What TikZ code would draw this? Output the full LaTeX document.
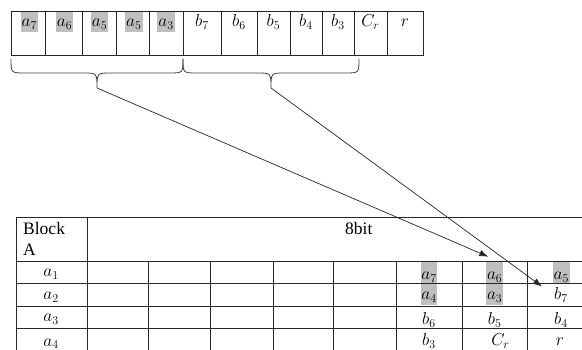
\documentclass[tikz,border=0pt]{standalone}
\usepackage{fontspec}
\setmainfont{Liberation Serif}
\usetikzlibrary{arrows.meta}
\begin{document}
\begin{tikzpicture}[x=1pt,y=-1pt,
  grid/.style={draw=black!85, line width=0.8pt},
  mlbl/.style={anchor=base, inner sep=0pt, font=\fontsize{16.5}{19}\selectfont},
  tlbl/.style={anchor=base west, inner sep=0pt, font=\fontsize{17.5}{21}\selectfont},
  hl/.style={fill=black!25, draw=none},
  conn/.style={draw=black!85, line width=0.7pt, -{Latex[length=9pt,width=6.5pt]}},
  bracestyle/.style={draw=black!75, line width=0.8pt}]
\useasboundingbox (0,0) rectangle (582,350);
\clip (0,0) rectangle (582,350);

% ---------- top register ----------
\fill[hl] (20.7,12) rectangle (38,32);
\fill[hl] (55.7,12) rectangle (73.3,32);
\fill[hl] (90.7,12) rectangle (108.3,32);
\fill[hl] (125,12) rectangle (142.7,32);
\fill[hl] (157.3,12) rectangle (175,32);
\draw[grid] (11,11) rectangle (423,55);
\foreach \x in {45,82,116,149,183,221,257,290,322,354,387}
  \draw[grid] (\x,11) -- (\x,55);
\node[mlbl] (t1) at (29.3,27) {$a_7$};
\node[mlbl] (t2) at (64.5,27) {$a_6$};
\node[mlbl] (t3) at (99.5,27) {$a_5$};
\node[mlbl] (t4) at (133.8,27) {$a_5$};
\node[mlbl] (t5) at (166,27) {$a_3$};
\node[mlbl] (t6) at (202,27) {$b_7$};
\node[mlbl] (t7) at (239,27) {$b_6$};
\node[mlbl] (t8) at (273.5,27) {$b_5$};
\node[mlbl] (t9) at (306,27) {$b_4$};
\node[mlbl] (t10) at (338,27) {$b_3$};
\node[mlbl] (t11) at (370.5,27) {$C_r$};
\node[mlbl] (t12) at (405,27) {$r$};

% ---------- braces ----------
\coordinate (tipA) at (97,88);
\coordinate (tipB) at (271,88);
\draw[bracestyle] (11,59) .. controls (11,73) .. (25,73) -- (83,73)
  .. controls (97,73) .. (tipA) .. controls (97,73) .. (111,73) -- (169,73)
  .. controls (183,73) .. (183,59);
\draw[bracestyle] (183,59) .. controls (183,73) .. (197,73) -- (257,73)
  .. controls (271,73) .. (tipB) .. controls (271,73) .. (285,73) -- (345,73)
  .. controls (359,73) .. (359,59);

% ---------- bottom table ----------
\fill[hl] (420.7,261.3) rectangle (437.3,304.7);
\fill[hl] (486,261.3) rectangle (503.3,304.7);
\fill[hl] (552.7,261.3) rectangle (570,283);
\foreach \y in {217,261,283,306.3,328.7}
  \draw[grid] (16,\y) -- (600,\y);
\draw[grid] (16,217) -- (16,360);
\draw[grid] (87,217) -- (87,360);
\foreach \x in {148,210,273,333,396,462,527.5}
  \draw[grid] (\x,261) -- (\x,360);

\node[tlbl] (blk1) at (23,235) {Block};
\node[tlbl] (blk2) at (23,256) {A};
\node[tlbl] (bits) at (345,234.3) {8bit};

\node[mlbl] (r1) at (51,277) {$a_1$};
\node[mlbl] (r2) at (51,299.5) {$a_2$};
\node[mlbl] (r3) at (51,322) {$a_3$};
\node[mlbl] (r4) at (51,346) {$a_4$};

\node[mlbl] (c71) at (429,279.5) {$a_7$};
\node[mlbl] (c72) at (429,300) {$a_4$};
\node[mlbl] (c73) at (429,324.5) {$b_6$};
\node[mlbl] (c74) at (429,345.5) {$b_3$};
\node[mlbl] (c81) at (494.7,279.5) {$a_6$};
\node[mlbl] (c82) at (494.7,300) {$a_3$};
\node[mlbl] (c83) at (494.7,324.5) {$b_5$};
\node[mlbl] (c84) at (500.5,345.5) {$C_r$};
\node[mlbl] (c91) at (561.3,279.5) {$a_5$};
\node[mlbl] (c92) at (561,300) {$b_7$};
\node[mlbl] (c93) at (561,324.5) {$b_4$};
\node[mlbl] (c94) at (560,345.5) {$r$};

% ---------- connectors ----------
\coordinate (endA) at (488.3,256.7);
\coordinate (endB) at (542,286.5);
\draw[conn] (tipA) -- (endA);
\draw[conn] (tipB) -- (endB);
\end{tikzpicture}
\end{document}
